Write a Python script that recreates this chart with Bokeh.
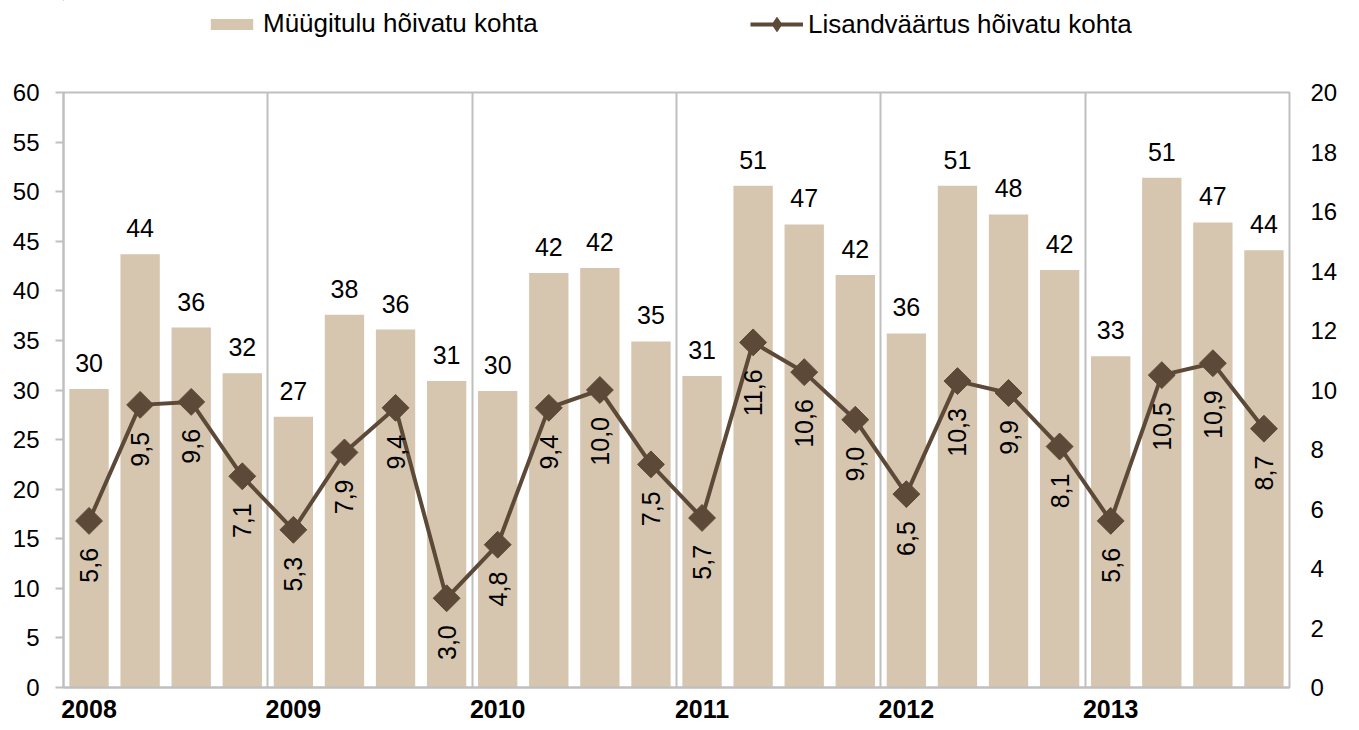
import numpy as np
from bokeh.plotting import figure
from bokeh.layouts import column
from bokeh.models import (Range1d, LinearAxis, FixedTicker, ColumnDataSource, LabelSet,
                          Legend, LegendItem)
from bokeh.core.properties import value
from bokeh.embed import file_html
from bokeh.resources import INLINE

years = ["2008", "2009", "2010", "2011", "2012", "2013"]
quarters_per_year = 4
sales = [30.1, 43.7, 36.3, 31.7,
         27.3, 37.6, 36.1, 30.9,
         29.9, 41.8, 42.3, 34.9,
         31.4, 50.6, 46.7, 41.6,
         35.7, 50.6, 47.7, 42.1,
         33.4, 51.4, 46.9, 44.1]
value_added = [5.6, 9.5, 9.6, 7.1,
               5.3, 7.9, 9.4, 3.0,
               4.8, 9.4, 10.0, 7.5,
               5.7, 11.6, 10.6, 9.0,
               6.5, 10.3, 9.9, 8.1,
               5.6, 10.5, 10.9, 8.7]
sales_name = "Müügitulu hõivatu kohta"
va_name = "Lisandväärtus hõivatu kohta"

BAR = "#D6C5AF"
LINE = "#5C4937"
GRAY = "#BFBFBF"
FONT = "Liberation Sans"

n = len(sales)
xs = list(range(n))
src = ColumnDataSource(dict(
    x=xs, sales=sales, va=value_added,
    sales_lbl=[str(int(np.floor(v + 0.5))) for v in sales],
    va_lbl=[f"{v:.1f}".replace(".", ",") for v in value_added],
))

W = 1352
LEG_H = 77
MAIN_H = 653

# ---------- main chart ----------
p = figure(width=W, height=MAIN_H, output_backend="svg", toolbar_location=None,
           x_range=Range1d(-0.5, n - 0.5), y_range=Range1d(0, 60),
           min_border_left=63, min_border_right=63, min_border_top=15, min_border_bottom=43)
p.extra_y_ranges = {"right": Range1d(0, 20)}
p.outline_line_color = GRAY
p.outline_line_width = 2
p.background_fill_color = "white"
p.border_fill_color = "white"

p.ygrid.grid_line_color = None
p.xgrid.ticker = FixedTicker(ticks=[quarters_per_year * k - 0.5 for k in range(1, len(years))])
p.xgrid.grid_line_color = GRAY
p.xgrid.grid_line_width = 2

bar_style = dict(fill_color=BAR, line_color=None)
line_style = dict(line_color=LINE, line_width=4)

p.vbar(x="x", top="sales", width=0.77, source=src, **bar_style)
p.line(x="x", y="va", source=src, y_range_name="right", **line_style)
p.scatter(x="x", y="va", source=src, y_range_name="right", size=19, marker="square",
          angle=np.pi / 4, fill_color=LINE, line_color=LINE)

ax = p.xaxis[0]
ax.ticker = FixedTicker(ticks=[quarters_per_year * k for k in range(len(years))])
ax.major_label_overrides = {quarters_per_year * k: y for k, y in enumerate(years)}
ax.axis_line_color = GRAY
ax.axis_line_width = 2
ax.major_tick_line_color = None
ax.minor_tick_line_color = None
ax.major_label_text_font = FONT
ax.major_label_text_font_style = "bold"
ax.major_label_text_font_size = "25px"
ax.major_label_text_color = "black"
ax.major_label_standoff = 6

ay = p.yaxis[0]
ay.ticker = FixedTicker(ticks=list(range(0, 61, 5)))
ay.axis_line_color = GRAY
ay.axis_line_width = 2
ay.major_tick_line_color = GRAY
ay.major_tick_line_width = 2
ay.major_tick_out = 8
ay.major_tick_in = 0
ay.minor_tick_line_color = None
ay.major_label_text_font = FONT
ay.major_label_text_font_size = "24px"
ay.major_label_text_color = "black"
ay.major_label_standoff = 16

ry = LinearAxis(y_range_name="right", ticker=FixedTicker(ticks=list(range(0, 21, 2))))
ry.axis_line_color = None
ry.major_tick_line_color = None
ry.minor_tick_line_color = None
ry.major_label_text_font = FONT
ry.major_label_text_font_size = "24px"
ry.major_label_text_color = "black"
ry.major_label_standoff = 15
p.add_layout(ry, "right")

bar_labels = LabelSet(x="x", y="sales", text="sales_lbl", source=src, text_align="center",
                      text_baseline="alphabetic", y_offset=17, text_font=value(FONT),
                      text_font_size=value("25px"), text_color=value("black"))
p.add_layout(bar_labels)
va_labels = LabelSet(x="x", y="va", text="va_lbl", source=src, y_range_name="right",
                     angle=np.pi / 2, text_align="right", text_baseline="middle",
                     y_offset=-27, text_font=value(FONT), text_font_size=value("25px"),
                     text_color=value("black"))
p.add_layout(va_labels)

# ---------- legend strip (its glyphs use the real data, kept out of view) ----------
lg = figure(width=W, height=LEG_H, output_backend="svg", toolbar_location=None,
            x_axis_type=None, y_axis_type=None,
            x_range=Range1d(n + 100, n + 101), y_range=Range1d(-200, -199),
            min_border=0)
lg.outline_line_color = None
lg.grid.grid_line_color = None
lb = lg.vbar(x="x", top="sales", width=0.77, source=src, **bar_style)
ll = lg.line(x="x", y="va", source=src, **line_style)
lp = lg.scatter(x="x", y="va", source=src, size=19, marker="diamond",
                fill_color=LINE, line_color=LINE)
leg_common = dict(orientation="horizontal", label_standoff=5, glyph_width=53,
                  label_text_font=FONT, label_text_font_size="26px", label_text_color="black",
                  border_line_color=None, background_fill_alpha=0, margin=0, padding=0)
legend1 = Legend(items=[LegendItem(label=sales_name, renderers=[lb])],
                 location=(142, 38), glyph_height=14, **leg_common)
legend2 = Legend(items=[LegendItem(label=va_name, renderers=[ll, lp])],
                 location=(687, 35), glyph_height=36, **leg_common)
lg.add_layout(legend1, "center")
lg.add_layout(legend2, "center")

layout = column(lg, p, spacing=0)
open("out.html", "w").write(file_html(layout, INLINE))
